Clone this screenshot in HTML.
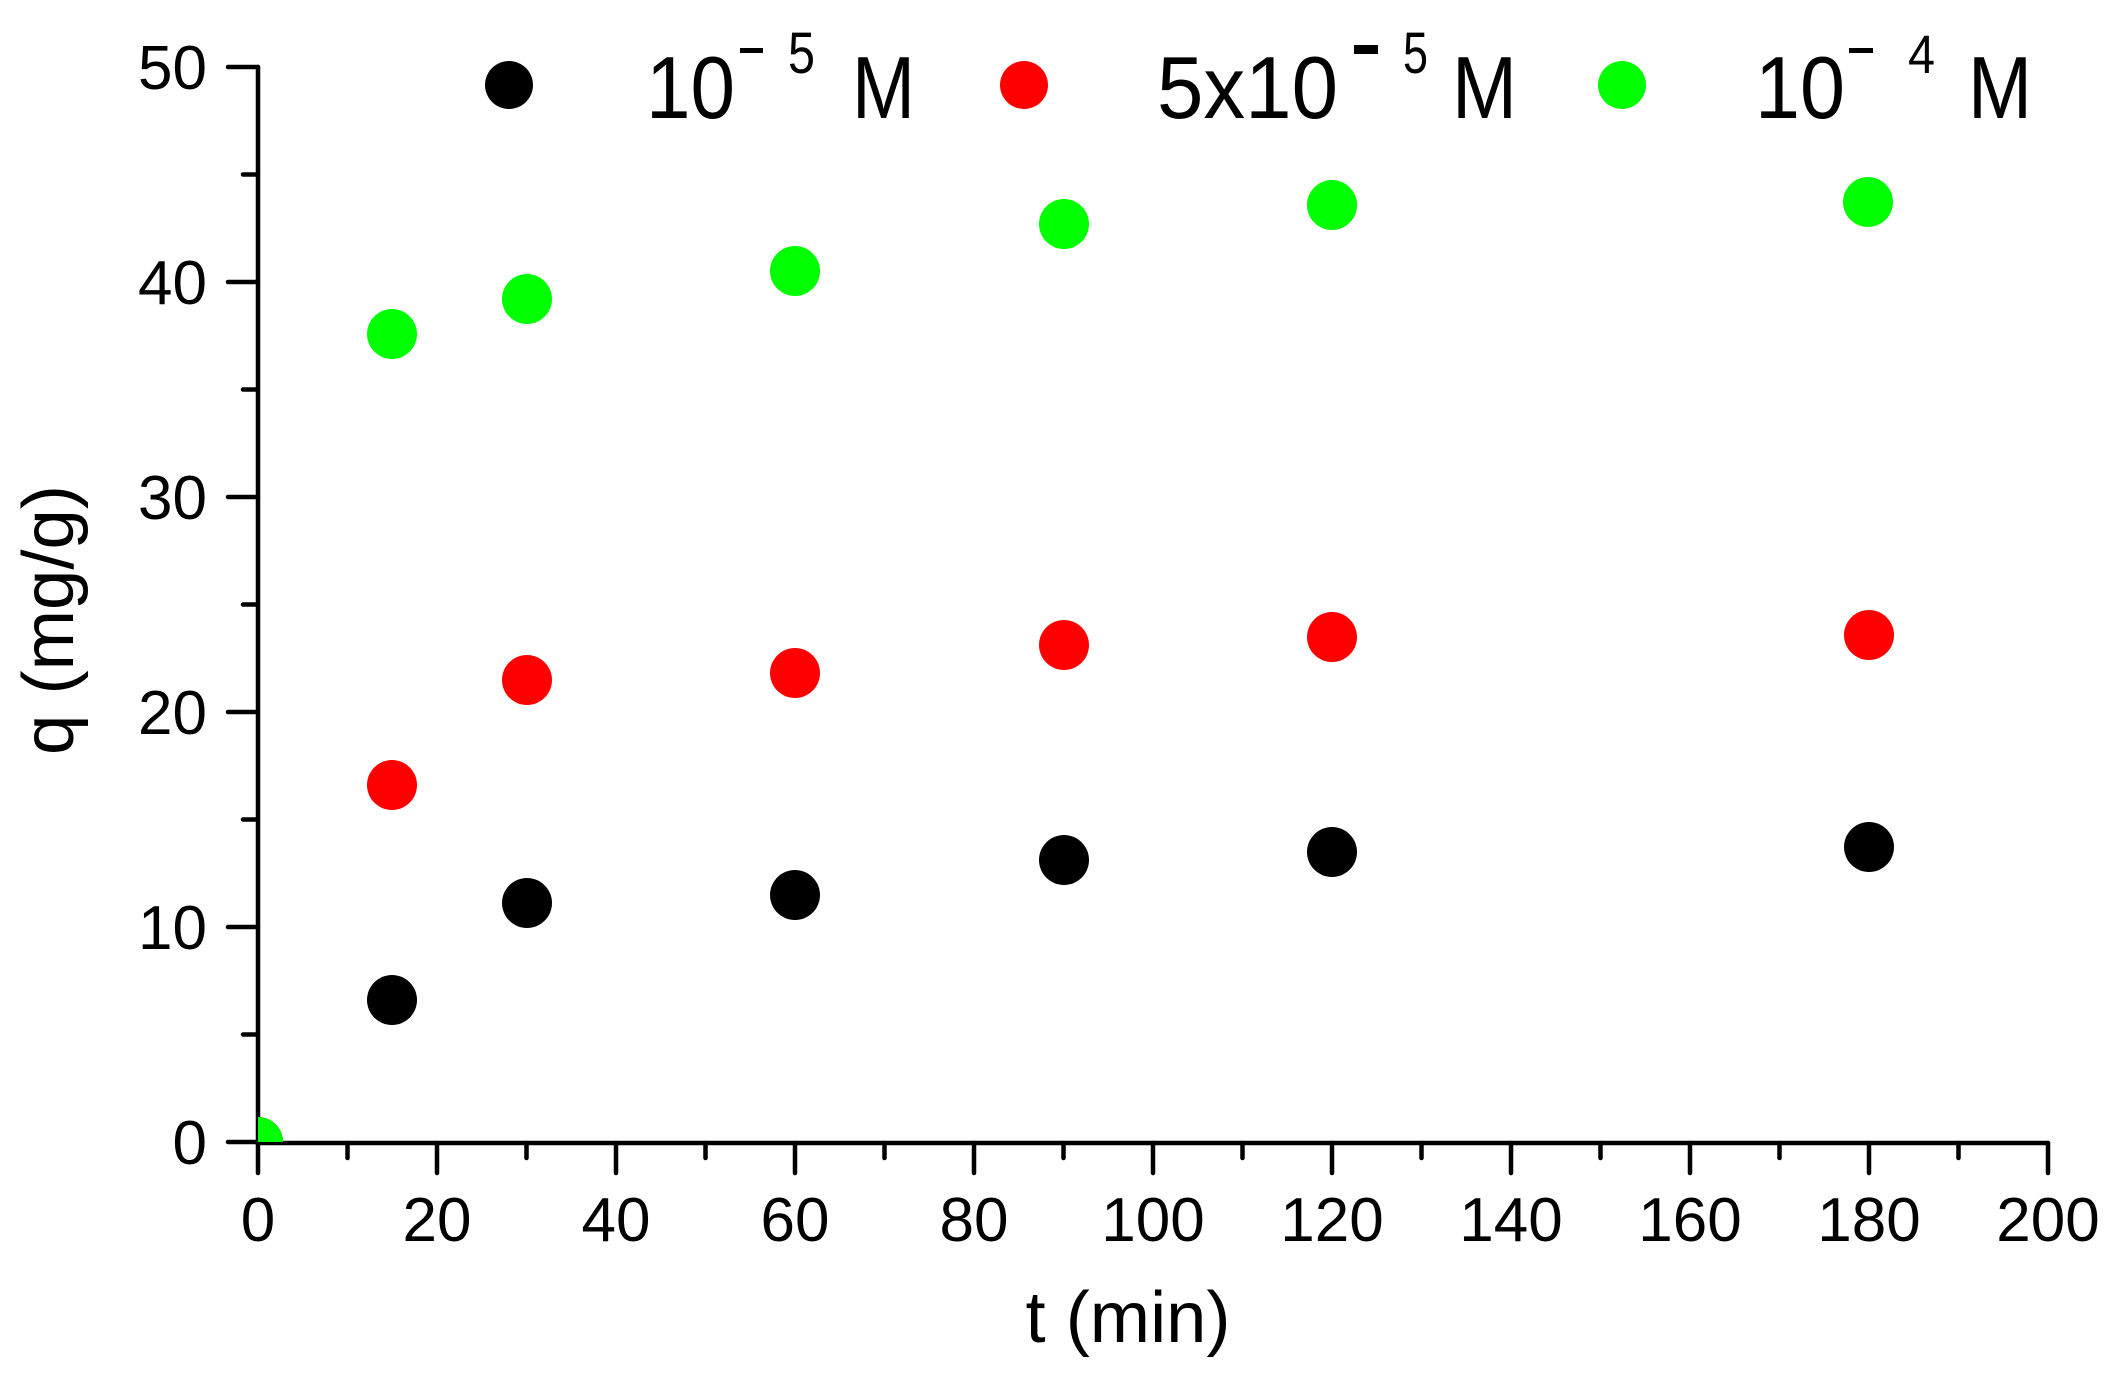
<!DOCTYPE html>
<html><head><meta charset="utf-8"><style>html,body{margin:0;padding:0;background:#fff}svg{display:block}</style></head>
<body>
<svg width="2117" height="1388" viewBox="0 0 2117 1388" xmlns="http://www.w3.org/2000/svg" font-family="Liberation Sans, Arial, sans-serif">
<defs><clipPath id="c"><rect x="258" y="40" width="1800" height="1102"/></clipPath></defs>
<rect width="2117" height="1388" fill="#fff"/>
<!-- axes -->
<g stroke="#000" stroke-width="4.5" stroke-linecap="round" fill="none">
<path d="M258 67 V1143 H2048"/>
<!-- y major -->
<path d="M228 67H258M228 282H258M228 497H258M228 712H258M228 927H258M228 1142H258"/>
<!-- y minor -->
<path d="M243 174.5H258M243 389.5H258M243 604.5H258M243 819.5H258M243 1034.5H258"/>
<!-- x major -->
<path d="M258 1143V1173M437 1143V1173M616 1143V1173M795 1143V1173M974 1143V1173M1153 1143V1173M1332 1143V1173M1511 1143V1173M1690 1143V1173M1869 1143V1173M2048 1143V1173"/>
<!-- x minor -->
<path d="M347.5 1143V1158M526.5 1143V1158M705.5 1143V1158M884.5 1143V1158M1063.5 1143V1158M1242.5 1143V1158M1421.5 1143V1158M1600.5 1143V1158M1779.5 1143V1158M1958.5 1143V1158"/>
</g>
<!-- tick labels -->
<g font-size="62" fill="#000">
<g text-anchor="end">
<text x="207" y="89">50</text><text x="207" y="304">40</text><text x="207" y="519">30</text>
<text x="207" y="734">20</text><text x="207" y="949">10</text><text x="207" y="1164">0</text>
</g>
<g text-anchor="middle">
<text x="258" y="1241">0</text><text x="437" y="1241">20</text><text x="616" y="1241">40</text>
<text x="795" y="1241">60</text><text x="974" y="1241">80</text><text x="1153" y="1241">100</text>
<text x="1332" y="1241">120</text><text x="1511" y="1241">140</text><text x="1690" y="1241">160</text>
<text x="1869" y="1241">180</text><text x="2048" y="1241">200</text>
</g>
</g>
<!-- axis titles -->
<text x="1128" y="1342" font-size="72" text-anchor="middle" textLength="205" lengthAdjust="spacingAndGlyphs">t (min)</text>
<text transform="translate(73,620) rotate(-90)" font-size="72" text-anchor="middle" textLength="270" lengthAdjust="spacingAndGlyphs">q (mg/g)</text>
<!-- data -->
<g clip-path="url(#c)">
<g fill="#000">
<circle cx="258" cy="1142" r="25"/>
<circle cx="392" cy="1000" r="25"/><circle cx="527" cy="903" r="25"/><circle cx="795" cy="895" r="25"/>
<circle cx="1064" cy="860" r="25"/><circle cx="1332" cy="852" r="25"/><circle cx="1869" cy="847" r="25"/>
</g>
<g fill="#ff0000">
<circle cx="258" cy="1142" r="25"/>
<circle cx="392" cy="785" r="25"/><circle cx="527" cy="680" r="25"/><circle cx="795" cy="673" r="25"/>
<circle cx="1064" cy="645" r="25"/><circle cx="1332" cy="637" r="25"/><circle cx="1869" cy="635" r="25"/>
</g>
<g fill="#00ff00">
<circle cx="258" cy="1142" r="25"/>
<circle cx="392" cy="334" r="25"/><circle cx="527" cy="299" r="25"/><circle cx="795" cy="271" r="25"/>
<circle cx="1064" cy="224" r="25"/><circle cx="1332" cy="205" r="25"/><circle cx="1868" cy="202" r="25"/>
</g>
</g>
<!-- legend -->
<circle cx="509" cy="85" r="24" fill="#000"/>
<circle cx="1024" cy="85" r="24" fill="#ff0000"/>
<circle cx="1622" cy="85" r="24" fill="#00ff00"/>
<g fill="#000">
<text x="646" y="118" font-size="88" textLength="89" lengthAdjust="spacingAndGlyphs">10</text>
<rect x="740" y="48" width="23" height="5"/>
<text x="788" y="73" font-size="58" textLength="27" lengthAdjust="spacingAndGlyphs">5</text>
<text x="852" y="118" font-size="88" textLength="63" lengthAdjust="spacingAndGlyphs">M</text>

<text x="1157" y="118" font-size="88" textLength="181" lengthAdjust="spacingAndGlyphs">5x10</text>
<rect x="1354" y="45" width="24" height="9"/>
<text x="1403" y="73" font-size="58" textLength="25" lengthAdjust="spacingAndGlyphs">5</text>
<text x="1452" y="118" font-size="88" textLength="65" lengthAdjust="spacingAndGlyphs">M</text>

<text x="1755" y="118" font-size="88" textLength="90" lengthAdjust="spacingAndGlyphs">10</text>
<rect x="1849" y="48" width="24" height="5"/>
<text x="1908" y="73" font-size="54" textLength="27" lengthAdjust="spacingAndGlyphs">4</text>
<text x="1968" y="118" font-size="88" textLength="64" lengthAdjust="spacingAndGlyphs">M</text>
</g>
</svg>
</body></html>
